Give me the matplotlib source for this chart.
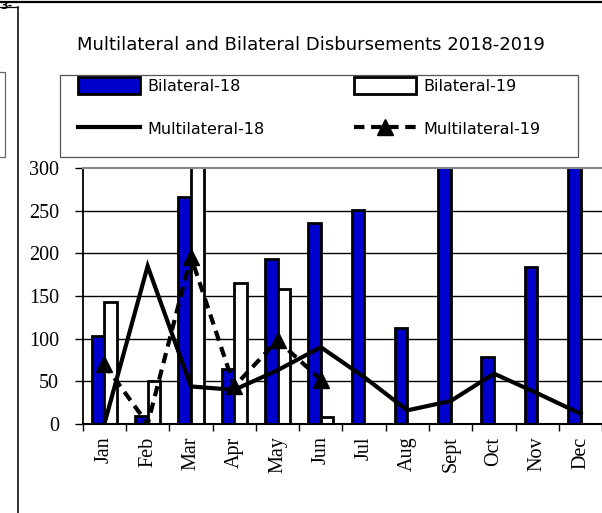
import numpy as np
import matplotlib
matplotlib.use("Agg")
import matplotlib.pyplot as plt
from matplotlib.patches import Rectangle

months = ["Jan", "Feb", "Mar", "Apr", "May", "Jun",
          "Jul", "Aug", "Sept", "Oct", "Nov", "Dec"]
bilateral_18 = [103, 9, 266, 64, 193, 235, 251, 112, 330, 78, 184, 340]
bilateral_19 = [143, 50, 320, 165, 158, 8, 0, 0, 0, 0, 0, 0]
multilateral_18 = [0, 185, 44, 40, 63, 90, 55, 16, 27, 59, 36, 12]
multilateral_19 = [70, 0, 196, 44, 98, 52]
y_ticks = [0, 50, 100, 150, 200, 250, 300]

W, H = 602, 513
fig = plt.figure(figsize=(W / 100, H / 100), dpi=100)

# page decorations around the chart (the picture is cut from a document)
deco = fig.add_axes([0, 0, 1, 1], zorder=-5)
deco.set_xlim(0, W)
deco.set_ylim(H, 0)
deco.axis("off")
deco.plot([0, W], [1.5, 1.5], color="black", lw=1.6)
deco.plot([0, 18], [7, 7], color="black", lw=0.9)
deco.plot([18, 18], [7, H], color="#222222", lw=1.3)
deco.add_patch(Rectangle((-2, 72), 7, 85, fill=False, ec="#666666", lw=0.9))
deco.text(0.5, 6, "3-", fontsize=8, fontweight="bold", va="center", ha="left")

# legend frame
deco.add_patch(Rectangle((60, 75), 518, 82, fill=False, ec="#555555", lw=0.9))

fig.text(310.5 / W, 1 - 45 / H, "Multilateral and Bilateral Disbursements 2018-2019",
         ha="center", va="center", fontsize=13, family="DejaVu Sans")

ax = fig.add_axes([82.7 / W, (H - 424) / H, (602.3 - 82.7) / W, 256 / H])
x = np.arange(len(months))
bw = 0.29
b18 = ax.bar(x - bw / 2, bilateral_18, bw, color="#0000CC", edgecolor="black", lw=2,
             label="Bilateral-18", zorder=2)
b19 = ax.bar(x + bw / 2, bilateral_19, bw, color="white", edgecolor="black", lw=2,
             label="Bilateral-19", zorder=2)
m18, = ax.plot(x, multilateral_18, color="black", lw=3, solid_joinstyle="miter",
               label="Multilateral-18", zorder=4)
m19, = ax.plot(x[:len(multilateral_19)], multilateral_19, color="black", lw=3,
               linestyle=(0, (2.5, 1.6)), marker="^", markersize=11,
               markevery=[0, 2, 3, 4, 5], label="Multilateral-19", zorder=5)

ax.set_xlim(-0.5, 11.5)
ax.set_ylim(0, 300)
ax.set_yticks(y_ticks)
ax.set_yticklabels([str(v) for v in y_ticks], family="Liberation Serif", fontsize=14.5)
ax.set_xticks(np.arange(-0.5, 12, 1))
ax.set_xticklabels([])
ax.set_xticks(x, minor=True)
ax.set_xticklabels(months, minor=True, rotation=90, family="Liberation Serif",
                   fontsize=14.5)
ax.tick_params(axis="x", which="major", direction="out", length=5, width=1)
ax.tick_params(axis="x", which="minor", length=0, pad=9)
ax.tick_params(axis="y", direction="out", length=6, width=1, pad=11)

for v in y_ticks[1:-1]:
    ax.axhline(v, color="black", lw=1, zorder=1)
ax.spines["top"].set_color("#888888")
ax.spines["top"].set_linewidth(1.5)
ax.spines["right"].set_visible(False)
ax.spines["left"].set_linewidth(1.3)
ax.spines["bottom"].set_linewidth(1.5)

# ncol=2 fills column by column
fig.legend([b18, m18, b19, m19],
           ["Bilateral-18", "Multilateral-18", "Bilateral-19", "Multilateral-19"],
           loc="upper left", bbox_to_anchor=(78 / W, 1 - 77 / H),
           ncol=2, frameon=False, borderpad=0, borderaxespad=0,
           prop={"family": "DejaVu Sans", "size": 11.5},
           handlelength=3.9, handleheight=1.25, handletextpad=0.45,
           columnspacing=5.6, labelspacing=1.65, numpoints=1)

fig.savefig("out.png", dpi=100)
